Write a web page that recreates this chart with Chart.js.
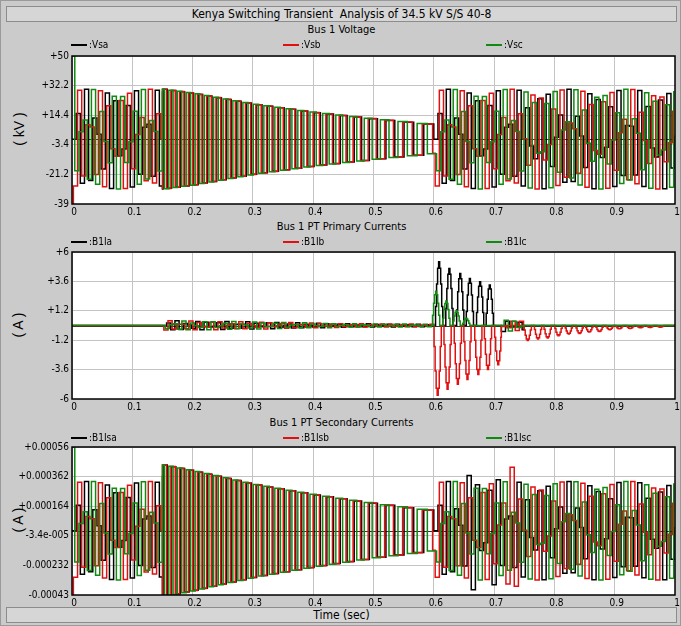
<!DOCTYPE html>
<html>
<head>
<meta charset="utf-8">
<script src="https://cdn.jsdelivr.net/npm/chart.js@4.4.1/dist/chart.umd.min.js"></script>
<style>
  body { margin: 0; background: #fff; }
  #frame { position: absolute; left: 0; top: 0; width: 679px; height: 624px; background: #cbcbcb; border: 1px solid #9a9a9a; overflow: hidden; }
  .txt { position: absolute; font-family: 'Liberation Sans Narrow', 'Arial Narrow', 'DejaVu Sans Condensed', sans-serif; font-size: 11px; color: #000; white-space: nowrap; }
  .bar { position: absolute; left: 5px; width: 669px; height: 14px; background: #d6d6d6; border: 1px solid #8c8c8c; text-align: center; line-height: 14px; }
  .leg span.ln { display: inline-block; width: 16px; height: 2px; vertical-align: middle; margin-right: 2px; }
  .ytitle { position: absolute; font-family: 'Liberation Sans', Arial, sans-serif; font-size: 14px; transform: rotate(-90deg); transform-origin: center; white-space: nowrap; }
  .wrap { position: absolute; left: 0; width: 681px; }
</style>
</head>
<body>
<div id="frame">
  <div class="bar txt" style="top:5px; font-size:12px;">Kenya Switching Transient&nbsp; Analysis of 34.5 kV S/S 40-8</div>
  <div class="bar txt" style="top:606px; font-size:12px;">Time (sec)</div>

  <div class="txt" style="top:22px; left:0; width:681px; text-align:center;">Bus 1 Voltage</div>
  <div class="txt" style="top:219px; left:0; width:681px; text-align:center;">Bus 1 PT Primary Currents</div>
  <div class="txt" style="top:415px; left:0; width:681px; text-align:center;">Bus 1 PT Secondary Currents</div>

  <div class="ytitle" style="left:1px; top:120px;">( kV )</div>
  <div class="ytitle" style="left:5px; top:316px;">( A )</div>
  <div class="ytitle" style="left:5px; top:511px;">( A )</div>

  <div class="wrap" style="top:46px;"><canvas id="volt" width="681" height="177"></canvas></div>
  <div class="wrap" style="top:242px;"><canvas id="pri" width="681" height="176"></canvas></div>
  <div class="wrap" style="top:437px;"><canvas id="sec" width="681" height="171"></canvas></div>

  <div id="leg1"></div><div id="leg2"></div><div id="leg3"></div>
</div>

<script>
// ---------- axes ----------
const timeTicks = [0, 0.1, 0.2, 0.3, 0.4, 0.5, 0.6, 0.7, 0.8, 0.9, 1];
const timeLabels = ['0', '0.1', '0.2', '0.3', '0.4', '0.5', '0.6', '0.7', '0.8', '0.9', '1'];

const phaseColors = ['#000000', '#e01010', '#108a10'];
const phaseShift = [0, -120, 120];   // degrees
const FREQ = 60;                      // Hz
const SAMPLE_DT = 0.0069;             // plot sample step (s)

// ringing after the breaker opens (0.15 s .. 0.6 s): half-period
const ringTime = [0.15, 0.25, 0.35, 0.45, 0.55, 0.6];
const ringHalfPeriod = [0.007, 0.008, 0.0095, 0.0115, 0.016, 0.018];
const ringOffset = [0.15, 0, 0.5];   // fraction of a half-period
const ringSign = [1, 1, -1];

// ---------- Bus 1 Voltage ----------
const voltTicks = [-39, -21.2, -3.4, 14.4, 32.2, 50];
const voltLabels = ['-39', '-21.2', '-3.4', '+14.4', '+32.2', '+50'];
const voltSeries = [':Vsa', ':Vsb', ':Vsc'];
const voltEnvTime = [0, 0.15, 0.2, 0.3, 0.4, 0.5, 0.599, 0.6, 1.0];
const voltEnvPeak = [30, 30, 27.5, 21, 16, 12, 8.5, 30, 30];
const voltStart = [0, -39, 50];

// ---------- Bus 1 PT Primary Currents ----------
const priTicks = [-6, -3.6, -1.2, 1.2, 3.6, 6];
const priLabels = ['-6', '-3.6', '-1.2', '+1.2', '+3.6', '+6'];
const priSeries = [':B1Ia', ':B1Ib', ':B1Ic'];
const priRippleTime = [0.15, 0.3, 0.45, 0.6];
const priRipplePeak = [0.4, 0.3, 0.15, 0.1];
const priTailTime = [0.712, 0.75];
const priTailPeak = [0.5, 0.35];
const iaPulseTime = [0.608, 0.625, 0.643, 0.659, 0.676, 0.692];
const iaPulsePeak = [5.2, 4.65, 4.25, 3.84, 3.57, 3.3];
const ibPulseTime = [0.6056, 0.622, 0.639, 0.655, 0.673, 0.689, 0.706,
                     0.755, 0.772, 0.788, 0.806, 0.823, 0.841, 0.857, 0.874, 0.891, 0.907, 0.925, 0.942, 0.958, 0.975];
const ibPulsePeak = [-5.7, -5.2, -4.8, -4.4, -4.0, -3.6, -3.2,
                     -1.22, -1.11, -1.03, -0.84, -0.70, -0.65, -0.54, -0.49, -0.35, -0.27, -0.24, -0.19, -0.16, -0.14];
const icPulseTime = [0.603, 0.62, 0.637, 0.653];
const icPulsePeak = [2.8, 2.0, 1.2, 0.6];
const pulseShape = [0.3, 0.65, 0.9, 1, 0.9, 0.65, 0.3];
const PULSE_STEP = 0.0017;

// ---------- Bus 1 PT Secondary Currents ----------
const secTicks = [-0.00043, -0.000232, -0.000034, 0.000164, 0.000362, 0.00056];
const secLabels = ['-0.00043', '-0.000232', '-3.4e-005', '+0.000164', '+0.000362', '+0.00056'];
const secSeries = [':B1Isa', ':B1Isb', ':B1Isc'];
const secEnvTime = [0, 0.149, 0.15, 0.2, 0.3, 0.4, 0.5, 0.599, 0.6, 1.0];
const secEnvPeak = [0.00033, 0.00033, 0.00044, 0.0004, 0.00031, 0.00024, 0.00018, 0.00013, 0.00033, 0.00033];
const secBurstTime = [[0.63, 0.65, 0.69, 0.71], [0.69, 0.71, 0.74, 0.75], []];
const secBurstPeak = [[0.00033, 0.0004, 0.0004, 0.00033], [0.00033, 0.00043, 0.00042, 0.00033], []];
const secStart = [0, -0.00043, 0.00056];

// ---------- helpers ----------
function envAt(ts, ps, t) {
  if (t <= ts[0]) return ps[0];
  for (let i = 1; i < ts.length; i++) {
    if (t <= ts[i]) {
      const f = (t - ts[i - 1]) / (ts[i] - ts[i - 1]);
      return ps[i - 1] + f * (ps[i] - ps[i - 1]);
    }
  }
  return ps[ps.length - 1];
}

function carrier(ph, t) {
  return Math.sin(2 * Math.PI * FREQ * t + phaseShift[ph] * Math.PI / 180);
}

function sampled(ph, envT, envP, t0, t1, burstT, burstP) {
  const pts = [];
  for (let t = t0 + ph * SAMPLE_DT / 3; t < t1; t += SAMPLE_DT) {
    let a = envAt(envT, envP, t);
    if (burstT && burstT.length && t >= burstT[0] && t <= burstT[burstT.length - 1]) a = envAt(burstT, burstP, t);
    pts.push({ x: t, y: a * carrier(ph, t) });
  }
  return pts;
}

function ringing(ph, envT, envP, t0, t1) {
  const pts = [];
  let t = t0 + ringOffset[ph] * envAt(ringTime, ringHalfPeriod, t0);
  let s = ringSign[ph];
  pts.push({ x: t0, y: -s * envAt(envT, envP, t0) });
  while (t < t1) {
    pts.push({ x: t, y: s * envAt(envT, envP, t) });
    t += envAt(ringTime, ringHalfPeriod, t);
    s = -s;
  }
  return pts;
}

function pulses(times, peaks) {
  const pts = [];
  times.forEach((t, i) => {
    const half = (pulseShape.length - 1) / 2;
    pts.push({ x: t - (half + 1) * PULSE_STEP, y: 0 });
    pulseShape.forEach((s, k) => pts.push({ x: t + (k - half) * PULSE_STEP, y: s * peaks[i] }));
    pts.push({ x: t + (half + 1) * PULSE_STEP, y: 0 });
  });
  return pts;
}

// ---------- build series ----------
function threeRegions(ph, start, envT, envP, burstT, burstP) {
  let pts = [{ x: 0, y: start }];
  pts = pts.concat(sampled(ph, envT, envP, 0, 0.15));
  pts = pts.concat(ringing(ph, envT, envP, 0.15, 0.6));
  pts = pts.concat(sampled(ph, envT, envP, 0.6, 1.001, burstT, burstP));
  return pts;
}

const voltData = [0, 1, 2].map(ph => threeRegions(ph, voltStart[ph], voltEnvTime, voltEnvPeak));
const secData = [0, 1, 2].map(ph => threeRegions(ph, secStart[ph], secEnvTime, secEnvPeak, secBurstTime[ph], secBurstPeak[ph]));

const pulseT = [iaPulseTime, ibPulseTime, icPulseTime];
const pulseP = [iaPulsePeak, ibPulsePeak, icPulsePeak];
const priData = [0, 1, 2].map(ph => {
  let pts = [{ x: 0, y: 0 }];
  pts = pts.concat(sampled(ph, priRippleTime, priRipplePeak, 0.15, 0.6));
  pts.push({ x: 0.6, y: 0 });
  const pl = pulses(pulseT[ph], pulseP[ph]);
  pts = pts.concat(pl.filter(p => p.x < 0.712));
  pts.push({ x: 0.712, y: 0 });
  pts = pts.concat(sampled(ph, priTailTime, priTailPeak, 0.712, 0.75));
  pts.push({ x: 0.75, y: 0 });
  pts = pts.concat(pl.filter(p => p.x >= 0.712));
  pts.push({ x: 1, y: 0 });
  return pts;
});

// ---------- legends ----------
function legend(id, top, names) {
  const lefts = [70, 282, 485];
  document.getElementById(id).innerHTML = names.map((n, i) =>
    `<div class="txt leg" style="top:${top}px; left:${lefts[i]}px; font-size:10px;"><span class="ln" style="background:${phaseColors[i]}"></span>${n}</div>`
  ).join('');
}
legend('leg1', 38, voltSeries);
legend('leg2', 235, priSeries);
legend('leg3', 431, secSeries);

// ---------- charts ----------
const tickFont = { family: "'Liberation Sans Narrow', 'Arial Narrow', 'DejaVu Sans Condensed', sans-serif", size: 10 };

const framePlugin = {
  id: 'frame',
  beforeDraw(c) {
    const a = c.chartArea, ctx = c.ctx;
    ctx.save();
    ctx.fillStyle = '#ffffff';
    ctx.fillRect(a.left, a.top, a.right - a.left, a.bottom - a.top);
    ctx.restore();
  },
  beforeDatasetsDraw(c) {
    const a = c.chartArea, ctx = c.ctx;
    const y0 = c.scales.y.getPixelForValue(0);
    ctx.save();
    ctx.strokeStyle = '#333333';
    ctx.lineWidth = 1;
    ctx.beginPath();
    ctx.moveTo(a.left, Math.round(y0) + 0.5);
    ctx.lineTo(a.right, Math.round(y0) + 0.5);
    ctx.stroke();
    ctx.restore();
  },
  afterDraw(c) {
    const a = c.chartArea, ctx = c.ctx;
    ctx.save();
    ctx.strokeStyle = '#000000';
    ctx.lineWidth = 1.5;
    ctx.strokeRect(a.left, a.top, a.right - a.left, a.bottom - a.top);
    ctx.restore();
  }
};

function makeChart(id, data, names, yTicks, yLabels, xHeight) {
  new Chart(document.getElementById(id), {
    type: 'line',
    data: {
      datasets: data.map((d, i) => ({
        label: names[i],
        data: d,
        order: 3 - i,            // later phases painted on top
        borderColor: phaseColors[i],
        borderWidth: 1.5,
        pointRadius: 0,
        stepped: true,
        fill: false
      }))
    },
    options: {
      responsive: false,
      animation: false,
      events: [],
      parsing: false,
      layout: { padding: { top: 8, right: 7, left: 0, bottom: 0 } },
      plugins: { legend: { display: false }, tooltip: { enabled: false } },
      scales: {
        x: {
          type: 'linear', min: 0, max: 1,
          afterBuildTicks: s => { s.ticks = timeTicks.map(v => ({ value: v })); },
          afterFit: s => { s.height = xHeight; },
          ticks: {
            callback: (v, i) => timeLabels[i],
            autoSkip: false, maxRotation: 0, font: tickFont, color: '#000', padding: 2, labelOffset: 2
          },
          grid: { color: '#c4c4c4', drawTicks: false },
          border: { display: false }
        },
        y: {
          type: 'linear', min: yTicks[0], max: yTicks[yTicks.length - 1],
          afterBuildTicks: s => { s.ticks = yTicks.map(v => ({ value: v })); },
          afterFit: s => { s.width = 71; },
          ticks: {
            callback: (v, i) => yLabels[i],
            autoSkip: false, font: tickFont, color: '#000', padding: 3
          },
          grid: { color: '#c4c4c4', drawTicks: false },
          border: { display: false }
        }
      }
    },
    plugins: [framePlugin]
  });
}

makeChart('volt', voltData, voltSeries, voltTicks, voltLabels, 20);
makeChart('pri', priData, priSeries, priTicks, priLabels, 20);
makeChart('sec', secData, secSeries, secTicks, secLabels, 14);
</script>
</body>
</html>
